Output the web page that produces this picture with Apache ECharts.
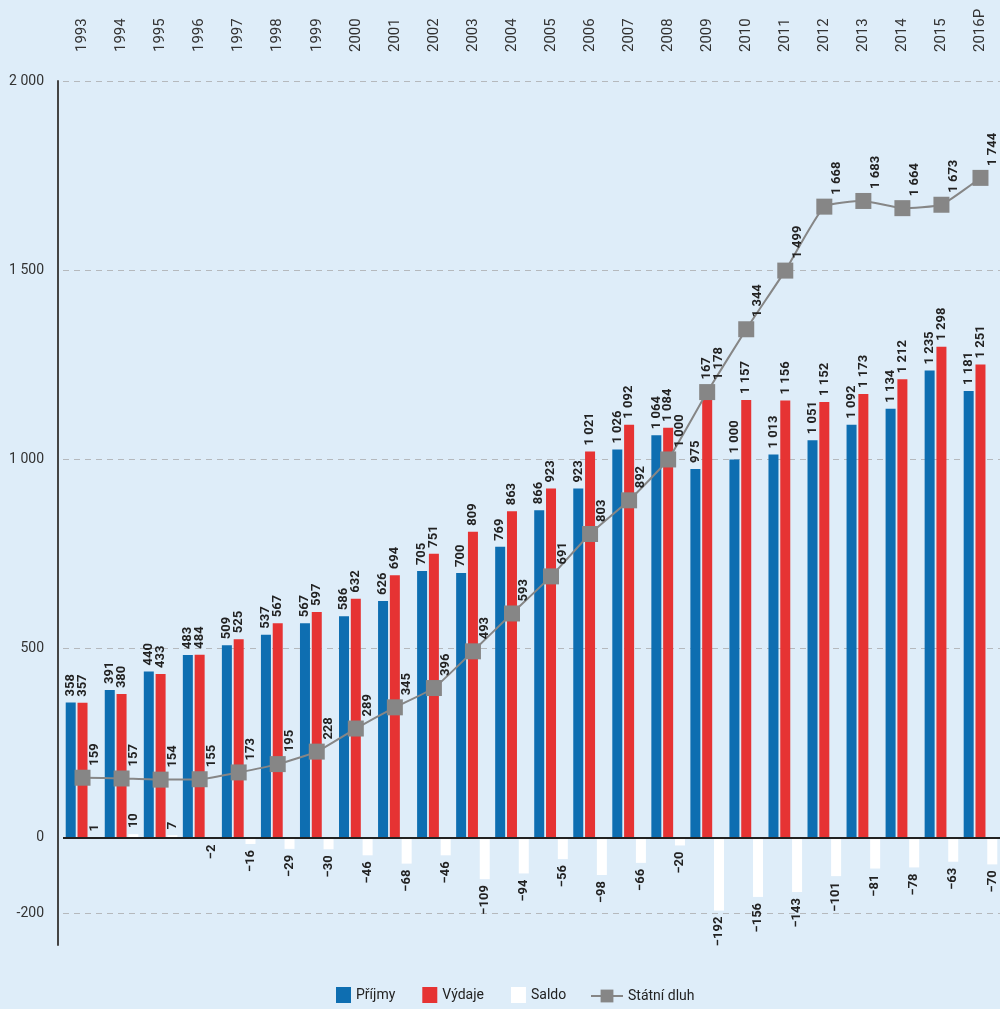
<!DOCTYPE html>
<html>
<head>
<meta charset="utf-8">
<script src="https://cdn.jsdelivr.net/npm/echarts@6/dist/echarts.min.js"></script>
<style>
  html, body { margin: 0; padding: 0; background: #deedf9; }
  #chart { width: 1000px; height: 1009px; }
</style>
</head>
<body>
<div id="chart"></div>
<script>
const years = ['1993','1994','1995','1996','1997','1998','1999','2000','2001','2002','2003','2004',
  '2005','2006','2007','2008','2009','2010','2011','2012','2013','2014','2015','2016P'];
const prijmy = [358,391,440,483,509,537,567,586,626,705,700,769,866,923,1026,1064,975,1000,1013,1051,1092,1134,1235,1181];
const vydaje = [357,380,433,484,525,567,597,632,694,751,809,863,923,1021,1092,1084,1167,1157,1156,1152,1173,1212,1298,1251];
const saldo = [1,10,7,-2,-16,-29,-30,-46,-68,-46,-109,-94,-56,-98,-66,-20,-192,-156,-143,-101,-81,-78,-63,-70];
const dluh = [159,157,154,155,173,195,228,289,345,396,493,593,691,803,892,1000,1178,1344,1499,1668,1683,1664,1673,1744];
const yTicks = [-200, 0, 500, 1000, 1500, 2000];

// mezery mezi tisíci, záporná čísla se znaménkem minus
function fmt(v) {
  const s = String(Math.abs(v)).replace(/\B(?=(\d{3})+(?!\d))/g, ' ');
  return (v < 0 ? '\u2212' : '') + s;
}

const valueLabel = {
  show: true,
  position: 'outside',
  rotate: 90,
  align: 'left',
  verticalAlign: 'middle',
  distance: 6,
  fontFamily: 'Roboto',
  fontWeight: 'bold',
  fontSize: 13,
  color: '#222',
  formatter: p => fmt(p.value)
};

const chart = echarts.init(document.getElementById('chart'));
chart.setOption({
  backgroundColor: '#deedf9',
  textStyle: { fontFamily: 'Roboto' },
  grid: { left: 63, right: 0, top: 81, bottom: 64, containLabel: false },
  legend: [{
    data: ['Příjmy', 'Výdaje', 'Saldo'],
    left: 331,
    bottom: 1,
    icon: 'rect',
    itemWidth: 15,
    itemHeight: 16,
    itemGap: 27,
    textStyle: { fontSize: 14, color: '#222' }
  }, {
    data: ['Státní dluh'],
    left: 585,
    bottom: 1,
    itemWidth: 32,
    itemHeight: 16,
    textStyle: { fontSize: 14, color: '#222' }
  }],
  xAxis: {
    type: 'category',
    data: years,
    position: 'top',
    axisLine: { show: false, onZero: false },
    axisTick: { show: false },
    axisLabel: { rotate: -90, align: 'left', verticalAlign: 'middle', margin: 29, fontSize: 15, color: '#333' }
  },
  yAxis: {
    type: 'value',
    min: -283,
    max: 2000,
    offset: 5,
    axisLine: { show: true, lineStyle: { color: '#444', width: 2 } },
    axisTick: { show: false, customValues: yTicks },
    axisLabel: {
      customValues: yTicks,
      margin: 14,
      fontSize: 14,
      color: '#333',
      formatter: v => String(v).replace(/\B(?=(\d{3})+(?!\d))/g, ' ')
    },
    splitLine: { show: true, lineStyle: { type: [6, 5], color: '#b5b9bd', width: 1 } }
  },
  series: [{
    name: 'Příjmy',
    type: 'bar',
    data: prijmy,
    barWidth: 10,
    barGap: '18%',
    itemStyle: { color: '#0e6eb1' },
    label: valueLabel
  }, {
    name: 'Výdaje',
    type: 'bar',
    data: vydaje,
    barWidth: 10,
    barGap: '18%',
    itemStyle: { color: '#e63333' },
    label: valueLabel
  }, {
    name: 'Saldo',
    type: 'bar',
    data: saldo.map(v => ({ value: v, label: { align: v < 0 ? 'right' : 'left' } })),
    barWidth: 10,
    barGap: '18%',
    itemStyle: { color: '#ffffff' },
    label: valueLabel,
    markLine: {
      silent: true,
      symbol: 'none',
      label: { show: false },
      lineStyle: { color: '#222', width: 2, type: 'solid' },
      data: [{ yAxis: 0 }]
    }
  }, {
    name: 'Státní dluh',
    type: 'line',
    data: dluh,
    smooth: 0.15,
    symbol: 'rect',
    symbolSize: 16,
    itemStyle: { color: '#868686' },
    lineStyle: { color: '#868686', width: 2 },
    label: {
      show: true,
      position: 'top',
      rotate: 90,
      align: 'left',
      verticalAlign: 'middle',
      offset: [0, 12],
      distance: 4,
      fontWeight: 'bold',
      fontSize: 13,
      color: '#222',
      formatter: p => fmt(p.value)
    }
  }]
});
</script>
</body>
</html>
